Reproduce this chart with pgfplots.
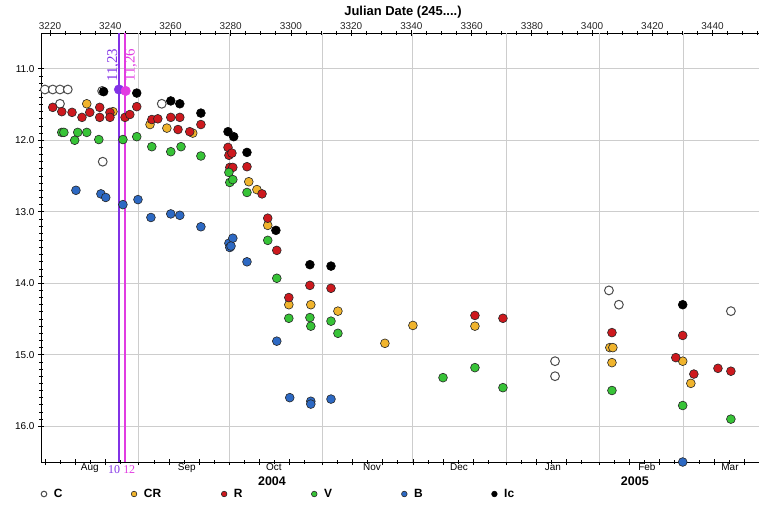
\documentclass[border=0pt]{standalone}
\usepackage{pgfplots}
\usepackage{pgfplotstable}
\pgfplotsset{compat=1.18}
\usepackage{fontspec}
\setmainfont{Liberation Sans}
\newfontfamily\serifnum{Liberation Serif}

\definecolor{cR}{RGB}{205,25,30}
\definecolor{cCR}{RGB}{240,180,45}
\definecolor{cV}{RGB}{55,195,55}
\definecolor{cB}{RGB}{45,105,195}
\definecolor{cPur}{RGB}{130,50,230}
\definecolor{cMag}{RGB}{225,60,225}
\definecolor{gridgray}{RGB}{205,205,205}

% JD (245....) and magnitude
\pgfplotstableread{
jd mag
3218.3 11.29
3220.9 11.29
3223.3 11.29
3225.9 11.29
3223.3 11.49
3237.3 11.31
3237.5 12.30
3257.1 11.49
3387.7 15.09
3387.7 15.30
3405.6 14.10
3408.9 14.30
3446.1 14.39
}\dataC

\pgfplotstableread{
jd mag
3232.2 11.49
3240.9 11.60
3253.2 11.78
3258.8 11.83
3267.4 11.90
3286.0 12.58
3288.7 12.69
3292.3 13.19
3299.3 14.30
3306.6 14.30
3315.6 14.39
3331.2 14.84
3340.5 14.59
3361.1 14.60
3405.9 14.90
3406.9 14.90
3406.6 15.11
3430.1 15.09
3432.8 15.40
}\dataCR

\pgfplotstableread{
jd mag
3220.9 11.54
3223.9 11.60
3227.3 11.61
3230.6 11.68
3233.2 11.61
3236.5 11.54
3236.5 11.68
3239.9 11.61
3239.9 11.68
3244.9 11.68
3246.5 11.64
3248.8 11.53
3253.8 11.71
3255.8 11.70
3260.1 11.68
3263.1 11.68
3262.5 11.85
3266.4 11.88
3270.1 11.78
3279.1 12.10
3279.4 12.21
3280.4 12.18
3279.7 12.38
3280.7 12.38
3285.4 12.37
3290.4 12.75
3292.3 13.09
3295.3 13.54
3299.3 14.20
3306.3 14.03
3313.3 14.07
3361.1 14.45
3370.4 14.49
3406.6 14.69
3430.1 14.73
3427.8 15.04
3433.8 15.27
3441.8 15.19
3446.1 15.23
}\dataR

\pgfplotstableread{
jd mag
3223.9 11.89
3224.6 11.89
3228.2 12.00
3229.2 11.89
3232.2 11.89
3236.2 11.99
3244.2 11.99
3248.8 11.95
3253.8 12.09
3260.1 12.16
3263.5 12.09
3270.1 12.22
3279.4 12.45
3279.7 12.59
3280.7 12.55
3285.4 12.73
3292.3 13.40
3295.3 13.93
3299.3 14.49
3306.3 14.48
3306.6 14.60
3313.3 14.53
3315.6 14.70
3350.5 15.32
3361.1 15.18
3370.4 15.46
3406.6 15.50
3430.1 15.71
3446.1 15.90
}\dataV

\pgfplotstableread{
jd mag
3228.6 12.70
3236.9 12.75
3238.5 12.80
3244.2 12.90
3249.2 12.83
3253.5 13.08
3260.1 13.03
3263.1 13.05
3270.1 13.21
3279.4 13.44
3279.7 13.50
3280.7 13.37
3280.1 13.48
3285.4 13.70
3295.3 14.81
3299.6 15.60
3306.6 15.65
3306.6 15.69
3313.3 15.62
3430.1 16.50
}\dataB

\pgfplotstableread{
jd mag
3237.8 11.32
3248.8 11.34
3260.1 11.45
3263.1 11.49
3270.1 11.62
3279.1 11.88
3281.0 11.95
3285.4 12.17
3295.0 13.26
3306.3 13.74
3313.3 13.76
3430.1 14.30
}\dataIc

\begin{document}
\begin{tikzpicture}
\useasboundingbox (0,0) rectangle (759bp,509bp);

% bottom axis: calendar ticks and month names
\begin{axis}[
  at={(41bp,47bp)}, anchor=south west,
  scale only axis, width=720bp, height=429bp,
  xmin=3217, xmax=3456.1, ymin=10.5, ymax=16.5, y dir=reverse,
  hide y axis,
  axis line style={draw=none},
  xtick pos=left,
  xtick={3218.5,3228.5,3238.5,3249.5,3259.5,3269.5,3279.5,3289.5,3299.5,3310.5,3320.5,3330.5,3340.5,3350.5,3360.5,3371.5,3381.5,3391.5,3402.5,3412.5,3422.5,3430.5,3440.5,3450.5},
  xticklabels={},
  minor xtick={3223.5,3233.5,3243.5,3254.5,3264.5,3274.5,3284.5,3294.5,3304.5,3315.5,3325.5,3335.5,3345.5,3355.5,3365.5,3376.5,3386.5,3396.5,3407.5,3417.5,3427.5,3435.5,3445.5},
  tick align=center,
  major tick length=6bp, minor tick length=3.5bp,
  tick style={black, line width=0.8bp},
  extra x ticks={3233.2,3265.4,3294.3,3326.9,3355.8,3387.0,3418.2,3445.8},
  extra x tick labels={Aug,Sep,Oct,Nov,Dec,Jan,Feb,Mar},
  extra x tick style={major tick length=0pt, tick label style={font=\fontsize{10}{12}\selectfont, yshift=2bp}},
]
\end{axis}

\begin{axis}[
  at={(41bp,47bp)}, anchor=south west,
  scale only axis, width=720bp, height=429bp,
  xmin=3217, xmax=3456.1, ymin=10.5, ymax=16.5, y dir=reverse,
  clip=false,
  axis line style={black, line width=0.9bp},
  xtick pos=right, xticklabel pos=right, ytick pos=left,
  xtick={3220,3240,...,3440},
  minor xtick={3225,3230,3235,3245,3250,3255,3265,3270,3275,3285,3290,3295,3305,3310,3315,3325,3330,3335,3345,3350,3355,3365,3370,3375,3385,3390,3395,3405,3410,3415,3425,3430,3435,3445,3450,3455},
  ytick={11,12,13,14,15,16},
  minor y tick num=9,
  tick align=center,
  major tick length=6bp, minor tick length=3.5bp,
  tick style={black, line width=0.8bp},
  /pgf/number format/1000 sep={},
  /pgf/number format/assume math mode=true,
  yticklabel style={/pgf/number format/.cd, fixed, fixed zerofill, precision=1},
  tick label style={font=\fontsize{10}{12}\selectfont},
  xticklabel style={yshift=-3bp, text=black!85},
  ymajorgrids,
  grid style={gridgray, line width=1bp},
  extra x ticks={3249.5,3279.5,3310.5,3340.5,3371.5,3402.5,3430.5},
  extra x tick labels={},
  extra x tick style={grid=major, major tick length=0pt},
  legend columns=6,
  legend style={at={(axis description cs:0,-0.0746)}, anchor=west, draw=none, fill=none,
    inner sep=0pt, font=\bfseries\fontsize{12}{14}\selectfont,
    /tikz/every odd column/.append style={column sep=5bp}},
  legend image code/.code={\draw[#1, mark size=2.8bp] plot coordinates {(0bp,0bp)};},
]
\addplot[cPur, line width=1.6bp, forget plot] coordinates {(3242.9,10.5) (3242.9,16.5)};
\addplot[cMag, line width=1.6bp, forget plot] coordinates {(3244.9,10.5) (3244.9,16.5)};

\addplot[only marks, mark=*, mark size=4.4bp, color=black!70, mark options={fill=white, line width=1bp}] table[x=jd, y=mag] {\dataC};
\addlegendentry{\makebox[75.5bp][l]{C}}
\addplot[only marks, mark=*, mark size=4.4bp, color=black!85, mark options={fill=cCR, line width=0.6bp}] table[x=jd, y=mag] {\dataCR};
\addlegendentry{\makebox[75.5bp][l]{CR}}
\addplot[only marks, mark=*, mark size=4.4bp, color=black!85, mark options={fill=cR, line width=0.6bp}] table[x=jd, y=mag] {\dataR};
\addlegendentry{\makebox[75.5bp][l]{R}}
\addplot[only marks, mark=*, mark size=4.4bp, color=black!85, mark options={fill=cV, line width=0.6bp}] table[x=jd, y=mag] {\dataV};
\addlegendentry{\makebox[75.5bp][l]{V}}
\addplot[only marks, mark=*, mark size=4.4bp, color=black!85, mark options={fill=cB, line width=0.6bp}] table[x=jd, y=mag] {\dataB};
\addlegendentry{\makebox[75.5bp][l]{B}}
\addplot[only marks, mark=*, mark size=4.4bp, color=black, mark options={fill=black, line width=0.6bp}] table[x=jd, y=mag] {\dataIc};
\addlegendentry{\makebox[75.5bp][l]{Ic}}

\addplot[only marks, mark=*, mark size=4.8bp, color=cPur, forget plot] coordinates {(3242.9,11.29)};
\addplot[only marks, mark=*, mark size=4.8bp, color=cMag, forget plot] coordinates {(3245.1,11.31)};

\node[font=\bfseries\fontsize{13}{15}\selectfont] at (axis cs:3337.2,10.204) {Julian Date (245....)};
\node[font=\bfseries\fontsize{12.5}{14}\selectfont] at (axis cs:3293.7,16.77) {2004};
\node[font=\bfseries\fontsize{12.5}{14}\selectfont] at (axis cs:3414.2,16.77) {2005};
\node[rotate=90, text=cPur, font=\serifnum\fontsize{15}{17}\selectfont] at (axis cs:3241.0,10.95) {11,23};
\node[rotate=90, text=cMag, font=\serifnum\fontsize{15}{17}\selectfont] at (axis cs:3246.8,10.95) {11,26};
\node[text=cPur, font=\serifnum\fontsize{12}{14}\selectfont, inner sep=0pt] at (axis cs:3241.3,16.605) {10};
\node[text=cMag, font=\serifnum\fontsize{12}{14}\selectfont, inner sep=0pt] at (axis cs:3246.3,16.605) {12};
\end{axis}
\end{tikzpicture}
\end{document}
